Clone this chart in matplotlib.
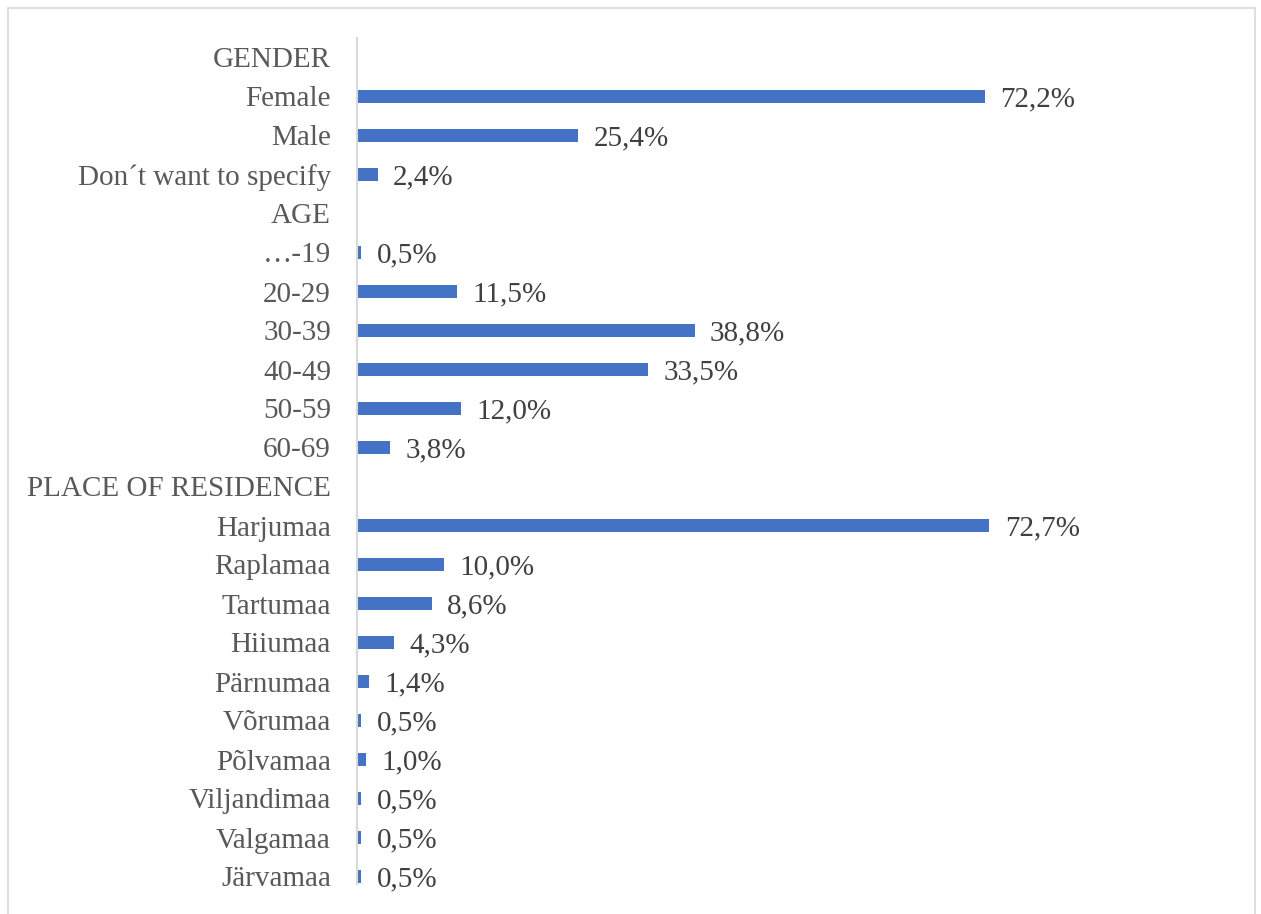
import matplotlib
matplotlib.use("Agg")
import matplotlib.pyplot as plt
from matplotlib.patches import Rectangle
import numpy as np

categories = ["GENDER", "Female", "Male", "Don\u00b4t want to specify",
              "AGE", "\u2026-19", "20-29", "30-39", "40-49", "50-59", "60-69",
              "PLACE OF RESIDENCE", "Harjumaa", "Raplamaa", "Tartumaa", "Hiiumaa",
              "P\u00e4rnumaa", "V\u00f5rumaa", "P\u00f5lvamaa", "Viljandimaa",
              "Valgamaa", "J\u00e4rvamaa"]
values = [None, 72.2, 25.4, 2.4,
          None, 0.5, 11.5, 38.8, 33.5, 12.0, 3.8,
          None, 72.7, 10.0, 8.6, 4.3, 1.4, 0.5, 1.0, 0.5, 0.5, 0.5]

plt.rcParams['font.family'] = ['Liberation Serif', 'DejaVu Serif']

W, H = 1261, 914
fig = plt.figure(figsize=(W / 100, H / 100), dpi=100)
fig.patches.append(Rectangle((8 / W, -0.01), (1255 - 8) / W, 1 - 8 / H + 0.01,
                             transform=fig.transFigure, fill=False,
                             edgecolor='#D9D9D9', linewidth=1.2))

ax = fig.add_axes([357 / W, 1 - 896 / H, (1227 - 357) / W, (896 - 38) / H])
y = np.arange(len(categories))
for yi, v in zip(y, values):
    if v is None:
        continue
    ax.barh(yi, v, height=0.34, color='#4472C4', left=0)
    ax.annotate(f"{v:.1f}".replace('.', ',') + '%', (v, yi), xytext=(11, 0),
                textcoords='offset points', va='center_baseline', ha='left',
                fontsize=21, color='#404040')

n = len(categories)
ax.set_ylim(n - 0.5, -0.5)
ax.set_xlim(0, 100)
ax.set_yticks(y)
ax.set_yticklabels(categories, fontsize=21, color='#595959', va='center_baseline')
ax.tick_params(axis='y', length=0, pad=26 * 0.72)
ax.set_xticks([])
for s in ['top', 'right', 'bottom']:
    ax.spines[s].set_visible(False)
ax.spines['left'].set_color('#D9D9D9')
ax.spines['left'].set_linewidth(1.5)
ax.spines['left'].set_bounds(n - 0.8, -0.5)

fig.savefig('out.png', dpi=100, facecolor='white')
